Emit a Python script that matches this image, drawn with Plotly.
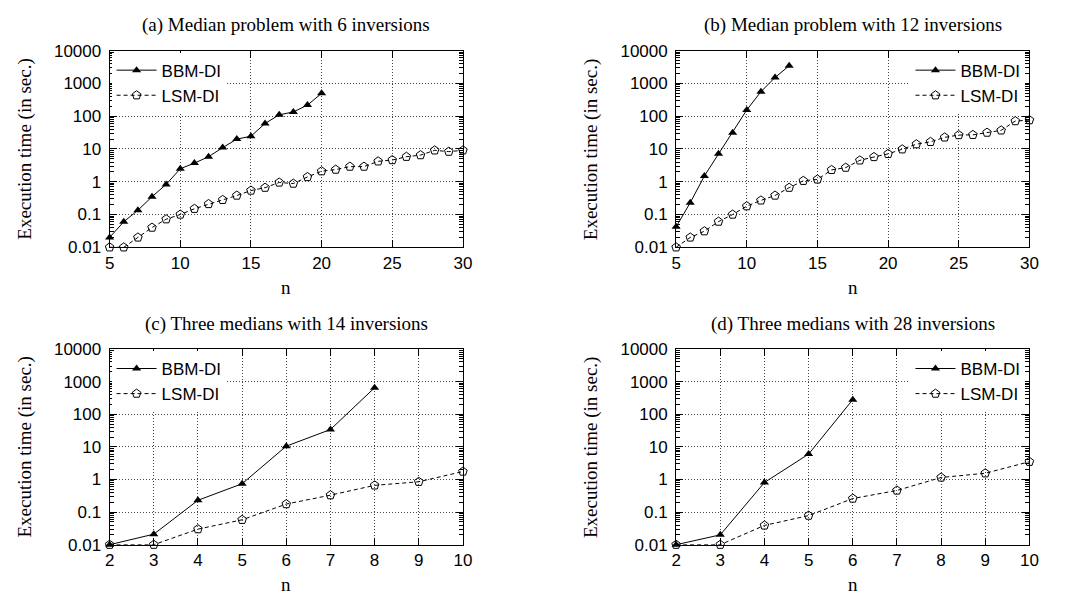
import plotly.graph_objects as go

W, H = 1071, 607

# ---------------- data ----------------
titles = ["(a) Median problem with 6 inversions",
          "(b) Median problem with 12 inversions",
          "(c) Three medians with 14 inversions",
          "(d) Three medians with 28 inversions"]

bbm_a_n = list(range(5, 21))
bbm_a = [0.02, 0.06, 0.135, 0.35, 0.83, 2.5, 3.7, 5.8, 11, 20, 24.5, 60, 110, 135, 218, 500]
lsm_a_n = list(range(5, 31))
lsm_a = [0.01, 0.01, 0.02, 0.04, 0.072, 0.1, 0.15, 0.21, 0.28, 0.38, 0.54, 0.66, 0.95, 0.88,
         1.4, 2.1, 2.35, 2.9, 2.9, 4.2, 4.6, 5.8, 6.5, 9.1, 8.3, 9.1]

bbm_b_n = list(range(5, 14))
bbm_b = [0.042, 0.23, 1.5, 7.1, 31, 155, 560, 1520, 3450]
lsm_b_n = list(range(5, 31))
lsm_b = [0.01, 0.02, 0.031, 0.061, 0.1, 0.18, 0.27, 0.38, 0.66, 1.07, 1.18, 2.3, 2.7, 4.5,
         5.7, 7.1, 9.8, 14, 16.5, 22.6, 26.6, 27, 31.6, 37, 71, 76]

bbm_c_n = list(range(2, 9))
bbm_c = [0.01, 0.021, 0.23, 0.74, 10.5, 34, 650]
lsm_c_n = list(range(2, 11))
lsm_c = [0.01, 0.01, 0.03, 0.058, 0.176, 0.33, 0.66, 0.85, 1.75]

bbm_d_n = list(range(2, 7))
bbm_d = [0.01, 0.02, 0.81, 6.0, 280]
lsm_d_n = list(range(2, 11))
lsm_d = [0.01, 0.01, 0.039, 0.078, 0.26, 0.46, 1.15, 1.55, 3.5]

x_ranges = [[5, 30], [5, 30], [2, 10], [2, 10]]
x_dticks = [5, 5, 1, 1]
y_tickvals = [0.01, 0.1, 1, 10, 100, 1000, 10000]
y_ticktext = ["0.01", "0.1", "1", "10", "100", "1000", "10000"]

series = [(bbm_a_n, bbm_a, lsm_a_n, lsm_a),
          (bbm_b_n, bbm_b, lsm_b_n, lsm_b),
          (bbm_c_n, bbm_c, lsm_c_n, lsm_c),
          (bbm_d_n, bbm_d, lsm_d_n, lsm_d)]

# ---------------- layout geometry (pixels) ----------------
boxes = [(106, 464, 43, 246), (680, 1038, 43, 246),
         (106, 464, 351, 553), (680, 1038, 351, 553)]
legend_left = [True, False, True, False]

SANS = "Liberation Sans, Arial, sans-serif"
SERIF = "Liberation Serif, Times New Roman, serif"

fig = go.Figure()
annotations = []
layout = dict(width=W, height=H, margin=dict(l=0, r=0, t=0, b=0),
              paper_bgcolor="white", plot_bgcolor="white", showlegend=True)

for i, (bn, bv, ln, lv) in enumerate(series):
    k = "" if i == 0 else str(i + 1)
    xa, ya = "x" + k, "y" + k
    lg = "legend" + k
    x0, x1, y0, y1 = boxes[i]
    fig.add_trace(go.Scatter(x=bn, y=bv, mode="lines+markers", name="BBM-DI",
                             xaxis=xa, yaxis=ya, legend=lg, cliponaxis=False,
                             line=dict(color="black", width=1),
                             marker=dict(symbol="triangle-up", size=8, color="black")))
    fig.add_trace(go.Scatter(x=ln, y=lv, mode="lines+markers", name="LSM-DI",
                             xaxis=xa, yaxis=ya, legend=lg, cliponaxis=False,
                             line=dict(color="black", width=1, dash="4px,3px"),
                             marker=dict(symbol="pentagon-open", size=9, color="black",
                                         line=dict(width=1, color="black"))))
    common = dict(showline=True, linecolor="black", linewidth=1, mirror="ticks",
                  ticks="inside", tickcolor="black", tickwidth=1, ticklen=7,
                  showgrid=True, gridcolor="#444", griddash="1px,2px", gridwidth=1,
                  zeroline=False,
                  tickfont=dict(family=SANS, size=17, color="black"))
    layout["xaxis" + k] = dict(common, domain=[x0 / W, x1 / W], anchor=ya,
                               range=x_ranges[i], dtick=x_dticks[i], tick0=0,
                               ticklabelstandoff=0)
    layout["yaxis" + k] = dict(common, domain=[1 - y1 / H, 1 - y0 / H], anchor=xa,
                               type="log", range=[-2, 4], tickvals=y_tickvals,
                               ticktext=y_ticktext, ticklabelstandoff=4,
                               minor=dict(ticks="inside", ticklen=4, tickcolor="black",
                                          dtick="D1", showgrid=False))
    if legend_left[i]:
        lx, xanc = (x0 + 2) / W, "left"
    else:
        lx, xanc = (x1 - 4) / W, "right"
    layout[lg] = dict(x=lx, y=1 - (y0 + 2) / H, xanchor=xanc, yanchor="top",
                      bgcolor="white", borderwidth=0,
                      font=dict(family=SANS, size=17, color="black"),
                      tracegroupgap=0, itemwidth=40)
    cx = (x0 + x1) / 2
    annotations.append(dict(text=titles[i], x=cx / W, y=1 - (y0 - 26) / H,
                            xref="paper", yref="paper", showarrow=False,
                            xanchor="center", yanchor="middle",
                            font=dict(family=SERIF, size=19, color="black")))
    annotations.append(dict(text="n", x=cx / W, y=1 - (y1 + 41) / H,
                            xref="paper", yref="paper", showarrow=False,
                            xanchor="center", yanchor="middle",
                            font=dict(family=SERIF, size=19, color="black")))
    annotations.append(dict(text="Execution time (in sec.)", x=(x0 - 86) / W,
                            y=1 - ((y0 + y1) / 2) / H, textangle=-90,
                            xref="paper", yref="paper", showarrow=False,
                            xanchor="center", yanchor="middle",
                            font=dict(family=SERIF, size=19, color="black")))

layout["annotations"] = annotations
fig.update_layout(**layout)
fig.write_html("out.html")
